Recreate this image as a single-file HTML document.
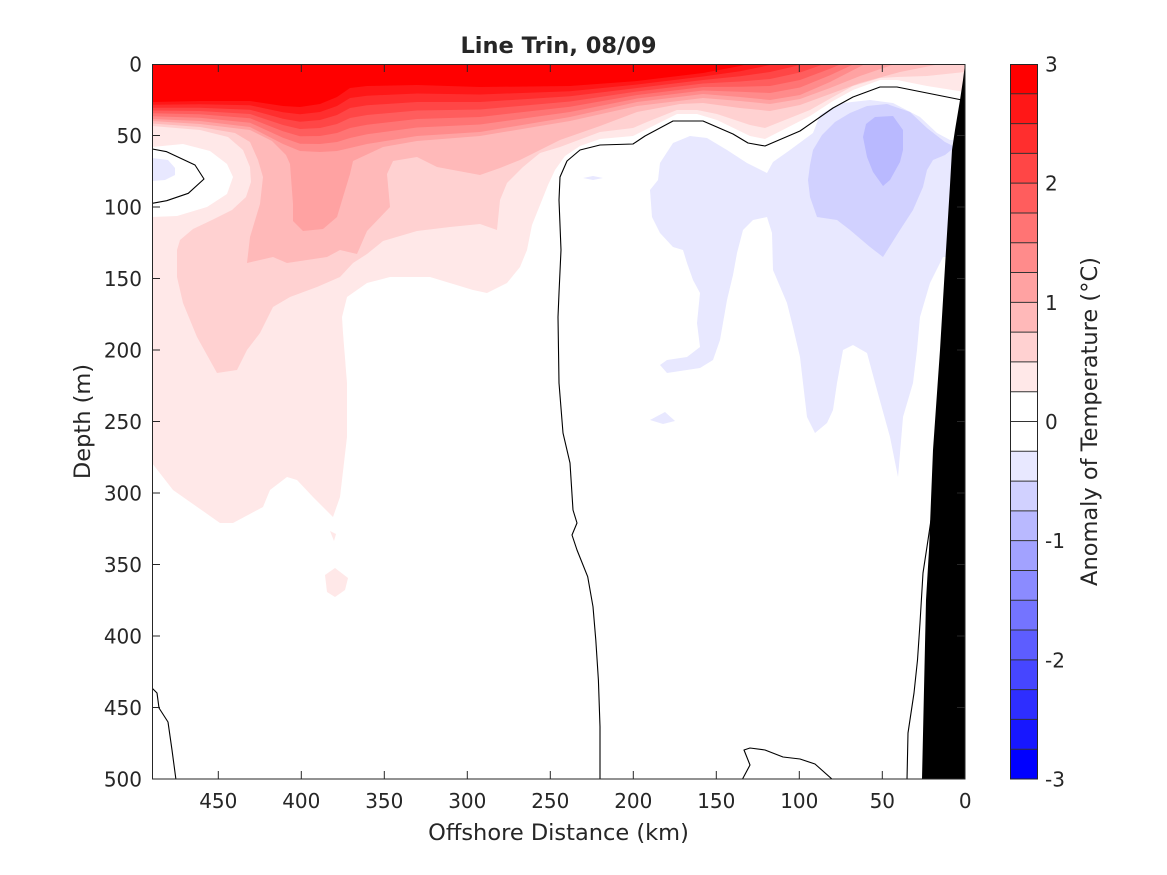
<!DOCTYPE html>
<html>
<head>
<meta charset="utf-8">
<style>
  html, body { margin: 0; padding: 0; background: #ffffff; }
  svg { display: block; }
  text { font-family: "DejaVu Sans", "Liberation Sans", sans-serif; fill: #262626; }
</style>
</head>
<body>
<svg width="1167" height="875" viewBox="0 0 1167 875" xmlns="http://www.w3.org/2000/svg">
  <rect x="0" y="0" width="1167" height="875" fill="#ffffff"/>
  <defs>
    <clipPath id="plot">
      <rect x="152" y="64" width="813" height="715"/>
    </clipPath>
  </defs>

  <g clip-path="url(#plot)">
    <rect x="152" y="64" width="813" height="715" fill="#ffffff"/>

    <!-- >0.25 -->
    <path fill="#ffe8e8" d="M152,0 L152,147 L183,144 L210,151 L227,164 L233,177 L227,194 L207,207 L177,216 L152,217 L152,463 L173,490 L220,523 L233,523 L263,507 L270,490 L287,477 L297,480 L313,497 L333,517 L340,497 L347,437 L347,383 L343,333 L342,317 L347,297 L367,283 L390,277 L430,277 L473,290 L487,293 L507,283 L520,267 L527,250 L532,225 L540,205 L548,185 L555,170 L565,156 L580,146 L600,139 L633,136 L647,129 L677,114 L697,114 L717,120 L750,136 L765,139 L810,116 L833,101 L853,90 L880,80 L897,80 L927,86 L965,92 L965,0 Z"/>
    <path fill="#ffe8e8" d="M325,575 L335,568 L348,578 L345,590 L335,597 L327,592 Z"/>
    <path fill="#ffe8e8" d="M330,531 L336,534 L334,541 Z"/>

    <!-- >0.5 -->
    <path fill="#ffd1d1" d="M152,0 L152,126 L200,130 L228,137 L243,150 L250,167 L251,182 L246,197 L232,210 L212,220 L193,229 L180,240 L177,250 L177,277 L183,303 L197,337 L217,373 L237,370 L247,350 L260,333 L273,307 L290,297 L317,287 L340,277 L353,263 L367,254 L383,241 L417,231 L450,227 L480,224 L497,230 L500,200 L507,183 L523,167 L540,153 L560,147 L600,132 L633,128 L647,122 L677,110 L697,110 L717,114 L750,125 L765,128 L810,110 L833,97 L853,86 L880,78 L897,77 L927,76 L965,72 L965,0 Z"/>

    <!-- >0.75 -->
    <path fill="#ffb9b9" d="M152,0 L152,123.5 L200,127 L235,133 L250,142 L258,160 L263,177 L260,204 L250,237 L247,263 L273,257 L287,263 L327,257 L340,250 L357,254 L367,231 L390,207 L387,174 L393,161 L417,157 L437,167 L480,175 L500,168 L520,160 L560,140 L600,126 L637,112 L680,104 L703,103 L740,108 L770,111 L800,105 L830,94 L860,83 L900,72 L940,64 L965,55 L965,0 Z"/>

    <!-- >1.0 -->
    <path fill="#ffa2a2" d="M152,0 L152,121 L200,124 L250,130 L272,141 L286,155 L290,164 L293,204 L293,221 L303,231 L323,229 L337,217 L343,197 L350,174 L353,161 L383,147 L417,141 L480,136 L570,121 L637,106 L703,98 L740,101 L770,104 L800,99 L830,88 L860,76 L895,64 L930,50 L965,40 L965,0 Z"/>

    <!-- >1.25 -->
    <path fill="#ff8b8b" d="M152,0 L152,119 L200,121 L250,127 L283,144 L300,151 L320,152 L337,151 L350,148 L367,144 L417,136 L480,132 L570,117 L637,102 L703,94 L740,97 L770,100 L800,95 L830,82 L865,64 L900,50 L965,30 L965,0 Z"/>
    <!-- >1.5 -->
    <path fill="#ff7474" d="M152,0 L152,116.2 L200,117.7 L250,122.7 L283,137.7 L300,143.7 L320,144 L337,142 L350,138 L367,134.3 L417,127.5 L480,124.5 L570,112 L637,98.5 L703,90.5 L740,91.8 L770,93 L800,87.5 L830,75.3 L865,59 L900,46 L965,26.7 L965,0 Z"/>
    <!-- >1.75 -->
    <path fill="#ff5d5d" d="M152,0 L152,113.3 L200,114.3 L250,118.3 L283,131.3 L300,136.3 L320,136 L337,133 L350,128 L367,124.7 L417,119 L480,117 L570,106.7 L637,95 L703,87 L740,86.7 L770,86 L800,80 L830,68.7 L865,54 L900,42 L965,23.3 L965,0 Z"/>
    <!-- >2.0 -->
    <path fill="#ff4646" d="M152,0 L152,110.5 L200,111 L250,114 L283,125 L300,129 L320,128 L337,124 L350,118 L367,115 L417,110.5 L480,109.5 L570,101.5 L637,91.5 L703,83.5 L740,81.5 L770,79 L800,72.5 L830,62 L865,49 L900,38 L965,20 L965,0 Z"/>
    <!-- >2.25 -->
    <path fill="#ff2e2e" d="M152,0 L152,107.7 L200,107.7 L250,109.7 L283,118.7 L300,121.7 L320,120 L337,115 L350,108 L367,105.3 L417,102 L480,102 L570,96.3 L637,88 L703,80 L740,76.3 L770,72 L800,65 L830,55.3 L865,44 L900,34 L965,16.7 L965,0 Z"/>
    <!-- >2.5 -->
    <path fill="#ff1717" d="M152,0 L152,104.8 L200,104.3 L250,105.3 L283,112.3 L300,114.3 L320,112 L337,106 L350,98 L367,95.7 L417,93.5 L480,94.5 L570,91.2 L637,84.5 L703,76.5 L740,71.2 L770,65 L800,57.5 L830,48.7 L865,39 L900,30 L965,13.3 L965,0 Z"/>
    <!-- >2.75 -->
    <path fill="#ff0000" d="M152,0 L152,102 L200,101 L250,101 L283,106 L300,107 L320,104 L337,97 L350,88 L367,86 L417,85 L480,87 L570,86 L637,81 L703,73 L740,66 L770,58 L800,50 L830,42 L865,34 L900,26 L965,10 L965,0 Z"/>

    <!-- < -0.25 -->
    <path fill="#e8e8ff" d="M152,158 L168,160 L175,168 L175,175 L165,180 L152,181 Z"/>
    <path fill="#e8e8ff" d="M660,163 L673,143 L690,136 L707,138 L727,150 L747,163 L767,173 L773,162 L790,150 L813,133 L820,115 L833,107 L843,103 L870,100 L893,103 L920,117 L937,133 L950,140 L960,140 L960,257 L943,257 L930,283 L920,317 L917,350 L913,383 L903,417 L898,477 L890,437 L877,390 L867,353 L853,345 L843,350 L837,383 L833,410 L827,423 L815,433 L807,417 L803,383 L800,357 L793,327 L787,303 L773,270 L772,233 L767,217 L753,220 L743,230 L737,253 L733,275 L727,300 L720,340 L713,360 L700,368 L667,373 L660,365 L667,360 L687,357 L700,347 L697,323 L700,293 L693,280 L687,263 L683,250 L673,247 L660,233 L652,217 L650,190 L658,180 Z"/>
    <path fill="#e8e8ff" d="M583,178 L593,176 L603,178 L593,180 Z"/>
    <path fill="#e8e8ff" d="M650,420 L665,412 L675,421 L663,424 Z"/>
    <!-- < -0.5 -->
    <path fill="#d1d1ff" d="M808,180 L810,165 L813,150 L822,135 L835,122 L850,113 L867,106 L887,104 L910,112 L927,128 L945,142 L955,147 L945,155 L933,160 L927,170 L923,187 L913,210 L900,230 L883,257 L870,247 L850,230 L837,220 L817,217 L810,197 Z"/>
    <!-- < -0.75 -->
    <path fill="#b9b9ff" d="M863,137 L866,124 L875,117 L893,116 L903,130 L903,150 L900,162 L890,180 L883,186 L873,172 L867,157 Z"/>

    <!-- zero contours -->
    <g fill="none" stroke="#000000" stroke-width="1.1" stroke-linejoin="round">
      <path d="M152.3,149 L166.7,151.7 L195,165 L204,179 L188.3,193.3 L166.7,200.7 L152.3,203.3"/>
      <path d="M600,780 L600,726.7 L598.4,680 L595.8,640 L593,606.7 L587.7,576.7 L577,550 L572,535 L577,523 L573,510 L570,463 L563,433 L559,383 L558,317 L559,293 L561,250 L559,200 L560,177 L567,161 L580,150 L600,145 L633,144 L645,136 L673,121 L703,121 L733,134 L748,143 L765,146 L800,131 L833,108 L853,97 L880,87 L897,87 L927,93 L962,100"/>
      <path d="M152,688 L157,693 L159,708 L168,722 L172,750 L176,780"/>
      <path d="M742,780 L750,765 L744,750 L750,748 L765,750 L783,757 L800,759 L815,764 L833,780"/>
      <path d="M907,780 L908,733 L914,693 L917.5,660 L920,623 L923,573 L928,540 L931,520"/>
    </g>

    <!-- bathymetry -->
    <path fill="#000000" d="M965,64 L963,80 L960,100 L955,130 L952,150 L950,185 L946,250 L943,300 L940,350 L933,450 L929,550 L926,600 L922,779 L965,779 Z"/>
  </g>

  <!-- axes box -->
  <rect x="152.5" y="64.5" width="812.5" height="714.5" fill="none" stroke="#262626" stroke-width="1"/>

  <!-- ticks -->
  <g stroke="#262626" stroke-width="1">
    <!-- x ticks bottom/top -->
    <line x1="218.3" y1="779" x2="218.3" y2="771"/><line x1="218.3" y1="64" x2="218.3" y2="72"/>
    <line x1="301.3" y1="779" x2="301.3" y2="771"/><line x1="301.3" y1="64" x2="301.3" y2="72"/>
    <line x1="384.3" y1="779" x2="384.3" y2="771"/><line x1="384.3" y1="64" x2="384.3" y2="72"/>
    <line x1="467.3" y1="779" x2="467.3" y2="771"/><line x1="467.3" y1="64" x2="467.3" y2="72"/>
    <line x1="550.3" y1="779" x2="550.3" y2="771"/><line x1="550.3" y1="64" x2="550.3" y2="72"/>
    <line x1="633.3" y1="779" x2="633.3" y2="771"/><line x1="633.3" y1="64" x2="633.3" y2="72"/>
    <line x1="716.3" y1="779" x2="716.3" y2="771"/><line x1="716.3" y1="64" x2="716.3" y2="72"/>
    <line x1="799.3" y1="779" x2="799.3" y2="771"/><line x1="799.3" y1="64" x2="799.3" y2="72"/>
    <line x1="882.3" y1="779" x2="882.3" y2="771"/><line x1="882.3" y1="64" x2="882.3" y2="72"/>
    <!-- y ticks left/right -->
    <line x1="152" y1="135.5" x2="160" y2="135.5"/><line x1="965" y1="135.5" x2="957" y2="135.5"/>
    <line x1="152" y1="207" x2="160" y2="207"/><line x1="965" y1="207" x2="957" y2="207"/>
    <line x1="152" y1="278.5" x2="160" y2="278.5"/><line x1="965" y1="278.5" x2="957" y2="278.5"/>
    <line x1="152" y1="350" x2="160" y2="350"/><line x1="965" y1="350" x2="957" y2="350"/>
    <line x1="152" y1="421.5" x2="160" y2="421.5"/><line x1="965" y1="421.5" x2="957" y2="421.5"/>
    <line x1="152" y1="493" x2="160" y2="493"/><line x1="965" y1="493" x2="957" y2="493"/>
    <line x1="152" y1="564.5" x2="160" y2="564.5"/><line x1="965" y1="564.5" x2="957" y2="564.5"/>
    <line x1="152" y1="636" x2="160" y2="636"/><line x1="965" y1="636" x2="957" y2="636"/>
    <line x1="152" y1="707.5" x2="160" y2="707.5"/><line x1="965" y1="707.5" x2="957" y2="707.5"/>
  </g>

  <!-- x tick labels -->
  <g font-size="20" text-anchor="middle">
    <text x="218.3" y="808">450</text>
    <text x="301.3" y="808">400</text>
    <text x="384.3" y="808">350</text>
    <text x="467.3" y="808">300</text>
    <text x="550.3" y="808">250</text>
    <text x="633.3" y="808">200</text>
    <text x="716.3" y="808">150</text>
    <text x="799.3" y="808">100</text>
    <text x="882.3" y="808">50</text>
    <text x="965.3" y="808">0</text>
  </g>

  <!-- y tick labels -->
  <g font-size="20" text-anchor="end">
    <text x="142" y="71.5">0</text>
    <text x="142" y="143">50</text>
    <text x="142" y="214.5">100</text>
    <text x="142" y="286">150</text>
    <text x="142" y="357.5">200</text>
    <text x="142" y="429">250</text>
    <text x="142" y="500.5">300</text>
    <text x="142" y="572">350</text>
    <text x="142" y="643.5">400</text>
    <text x="142" y="715">450</text>
    <text x="142" y="786.5">500</text>
  </g>

  <!-- axis labels & title -->
  <text x="558.5" y="840" font-size="22.5" text-anchor="middle">Offshore Distance (km)</text>
  <text transform="translate(90,421.5) rotate(-90)" font-size="22.5" text-anchor="middle">Depth (m)</text>
  <text x="558.5" y="53" font-size="22.5" font-weight="bold" text-anchor="middle" fill="#000000">Line Trin, 08/09</text>

  <!-- colorbar -->
  <g>
    <rect x="1010" y="64" width="27.5" height="29.8" fill="#ff0000"/>
    <rect x="1010" y="93.79" width="27.5" height="29.8" fill="#ff1717"/>
    <rect x="1010" y="123.58" width="27.5" height="29.8" fill="#ff2e2e"/>
    <rect x="1010" y="153.38" width="27.5" height="29.8" fill="#ff4646"/>
    <rect x="1010" y="183.17" width="27.5" height="29.8" fill="#ff5d5d"/>
    <rect x="1010" y="212.96" width="27.5" height="29.8" fill="#ff7474"/>
    <rect x="1010" y="242.75" width="27.5" height="29.8" fill="#ff8b8b"/>
    <rect x="1010" y="272.54" width="27.5" height="29.8" fill="#ffa2a2"/>
    <rect x="1010" y="302.33" width="27.5" height="29.8" fill="#ffb9b9"/>
    <rect x="1010" y="332.13" width="27.5" height="29.8" fill="#ffd1d1"/>
    <rect x="1010" y="361.92" width="27.5" height="29.8" fill="#ffe8e8"/>
    <rect x="1010" y="391.71" width="27.5" height="29.8" fill="#ffffff"/>
    <rect x="1010" y="421.5" width="27.5" height="29.8" fill="#ffffff"/>
    <rect x="1010" y="451.29" width="27.5" height="29.8" fill="#e8e8ff"/>
    <rect x="1010" y="481.08" width="27.5" height="29.8" fill="#d1d1ff"/>
    <rect x="1010" y="510.88" width="27.5" height="29.8" fill="#b9b9ff"/>
    <rect x="1010" y="540.67" width="27.5" height="29.8" fill="#a2a2ff"/>
    <rect x="1010" y="570.46" width="27.5" height="29.8" fill="#8b8bff"/>
    <rect x="1010" y="600.25" width="27.5" height="29.8" fill="#7474ff"/>
    <rect x="1010" y="630.04" width="27.5" height="29.8" fill="#5d5dff"/>
    <rect x="1010" y="659.83" width="27.5" height="29.8" fill="#4646ff"/>
    <rect x="1010" y="689.63" width="27.5" height="29.8" fill="#2e2eff"/>
    <rect x="1010" y="719.42" width="27.5" height="29.8" fill="#1717ff"/>
    <rect x="1010" y="749.21" width="27.5" height="29.79" fill="#0000ff"/>
  </g>
  <g stroke="#333333" stroke-width="1">
    <line x1="1010" y1="93.79" x2="1037.5" y2="93.79"/>
    <line x1="1010" y1="123.58" x2="1037.5" y2="123.58"/>
    <line x1="1010" y1="153.38" x2="1037.5" y2="153.38"/>
    <line x1="1010" y1="183.17" x2="1037.5" y2="183.17"/>
    <line x1="1010" y1="212.96" x2="1037.5" y2="212.96"/>
    <line x1="1010" y1="242.75" x2="1037.5" y2="242.75"/>
    <line x1="1010" y1="272.54" x2="1037.5" y2="272.54"/>
    <line x1="1010" y1="302.33" x2="1037.5" y2="302.33"/>
    <line x1="1010" y1="332.13" x2="1037.5" y2="332.13"/>
    <line x1="1010" y1="361.92" x2="1037.5" y2="361.92"/>
    <line x1="1010" y1="391.71" x2="1037.5" y2="391.71"/>
    <line x1="1010" y1="421.5" x2="1037.5" y2="421.5"/>
    <line x1="1010" y1="451.29" x2="1037.5" y2="451.29"/>
    <line x1="1010" y1="481.08" x2="1037.5" y2="481.08"/>
    <line x1="1010" y1="510.88" x2="1037.5" y2="510.88"/>
    <line x1="1010" y1="540.67" x2="1037.5" y2="540.67"/>
    <line x1="1010" y1="570.46" x2="1037.5" y2="570.46"/>
    <line x1="1010" y1="600.25" x2="1037.5" y2="600.25"/>
    <line x1="1010" y1="630.04" x2="1037.5" y2="630.04"/>
    <line x1="1010" y1="659.83" x2="1037.5" y2="659.83"/>
    <line x1="1010" y1="689.63" x2="1037.5" y2="689.63"/>
    <line x1="1010" y1="719.42" x2="1037.5" y2="719.42"/>
    <line x1="1010" y1="749.21" x2="1037.5" y2="749.21"/>
  </g>
  <rect x="1010.5" y="64.5" width="27" height="714.5" fill="none" stroke="#262626" stroke-width="1"/>

  <g font-size="20" text-anchor="start">
    <text x="1045" y="71.5">3</text>
    <text x="1045" y="190.7">2</text>
    <text x="1045" y="309.8">1</text>
    <text x="1045" y="429">0</text>
    <text x="1045" y="548.2">-1</text>
    <text x="1045" y="667.3">-2</text>
    <text x="1045" y="786.5">-3</text>
  </g>
  <text transform="translate(1097,421.5) rotate(-90)" font-size="22.5" text-anchor="middle">Anomaly of Temperature (°C)</text>
</svg>
</body>
</html>
